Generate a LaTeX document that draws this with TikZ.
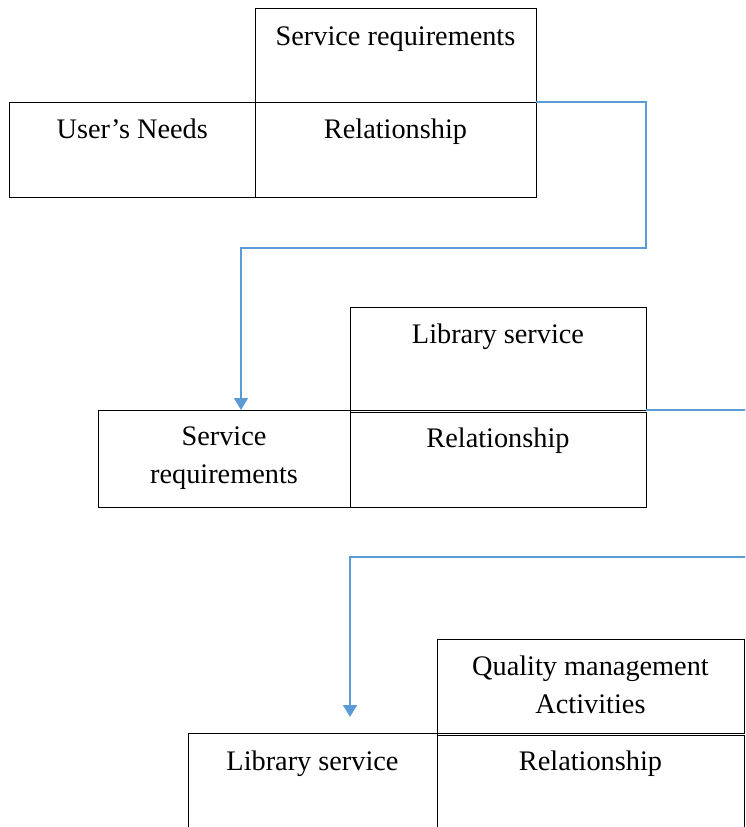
\documentclass[tikz,border=0pt]{standalone}
\usepackage{fontspec}
\setmainfont{Liberation Serif}
\usetikzlibrary{arrows.meta}
\definecolor{lineblue}{RGB}{91,155,213}
\begin{document}
\begin{tikzpicture}[x=1pt,y=-1pt,
  box/.style={draw=black, line width=1pt, anchor=north west, inner sep=0pt, outer sep=0pt},
  lbl/.style={anchor=base, inner sep=0pt, font=\fontsize{28.3}{37.5}\selectfont, align=center},
  flow/.style={draw=lineblue, line width=1.5pt},
  tip/.style={-{Triangle[length=12pt,width=14pt]}}
]
\useasboundingbox (0,0) rectangle (745,827);
\clip (0,0) rectangle (745,827);
% top row
\node[box, minimum width=281pt, minimum height=94pt] (sr1) at (255,8) {};
\node[box, minimum width=245.5pt, minimum height=95pt] (un1) at (9.5,102) {};
\node[box, minimum width=281pt, minimum height=95pt] (re1) at (255,102) {};
\node[lbl] (tsr1) at ([yshift=-37pt]sr1.north) {Service requirements};
\node[lbl] (tun1) at ([yshift=-36pt]un1.north) {User’s Needs};
\node[lbl] (tre1) at ([yshift=-36pt]re1.north) {Relationship};
% middle row
\node[box, minimum width=296pt, minimum height=103pt] (lb2) at (350,307) {};
\node[box, minimum width=252pt, minimum height=97pt] (sr2) at (98,410) {};
\node[box, minimum width=296pt, minimum height=95pt] (re2) at (350,412) {};
\node[lbl] (tlb2) at ([yshift=-36pt]lb2.north) {Library service};
\node[lbl] (tsr2) at ([yshift=-73pt]sr2.north) {Service\\requirements};
\node[lbl] (tre2) at ([yshift=-35pt]re2.north) {Relationship};
% bottom row
\node[box, minimum width=307pt, minimum height=94pt] (qm3) at (437,639) {};
\node[box, minimum width=249pt, minimum height=120pt] (lb3) at (188,733) {};
\node[box, minimum width=307pt, minimum height=120pt] (re3) at (437,735) {};
\node[lbl] (tqm3) at ([yshift=-74pt]qm3.north) {Quality management\\Activities};
\node[lbl] (tlb3) at ([yshift=-37pt]lb3.north) {Library service};
\node[lbl] (tre3) at ([yshift=-35pt]re3.north) {Relationship};
% connectors
\coordinate (c1a) at (646,102);
\coordinate (c1b) at (646,248);
\coordinate (c1c) at (241,248);
\draw[flow, tip] (re1.north east) -- (c1a) -- (c1b) -- (c1c) -- ([xshift=143pt]sr2.north west);
\coordinate (e2) at (760,410);
\draw[flow] (lb2.south east) -- (e2);
\coordinate (e3) at (760,557);
\coordinate (c3a) at (350,557);
\coordinate (a3) at (350,717);
\draw[flow, tip] (e3) -- (c3a) -- (a3);
\end{tikzpicture}
\end{document}
